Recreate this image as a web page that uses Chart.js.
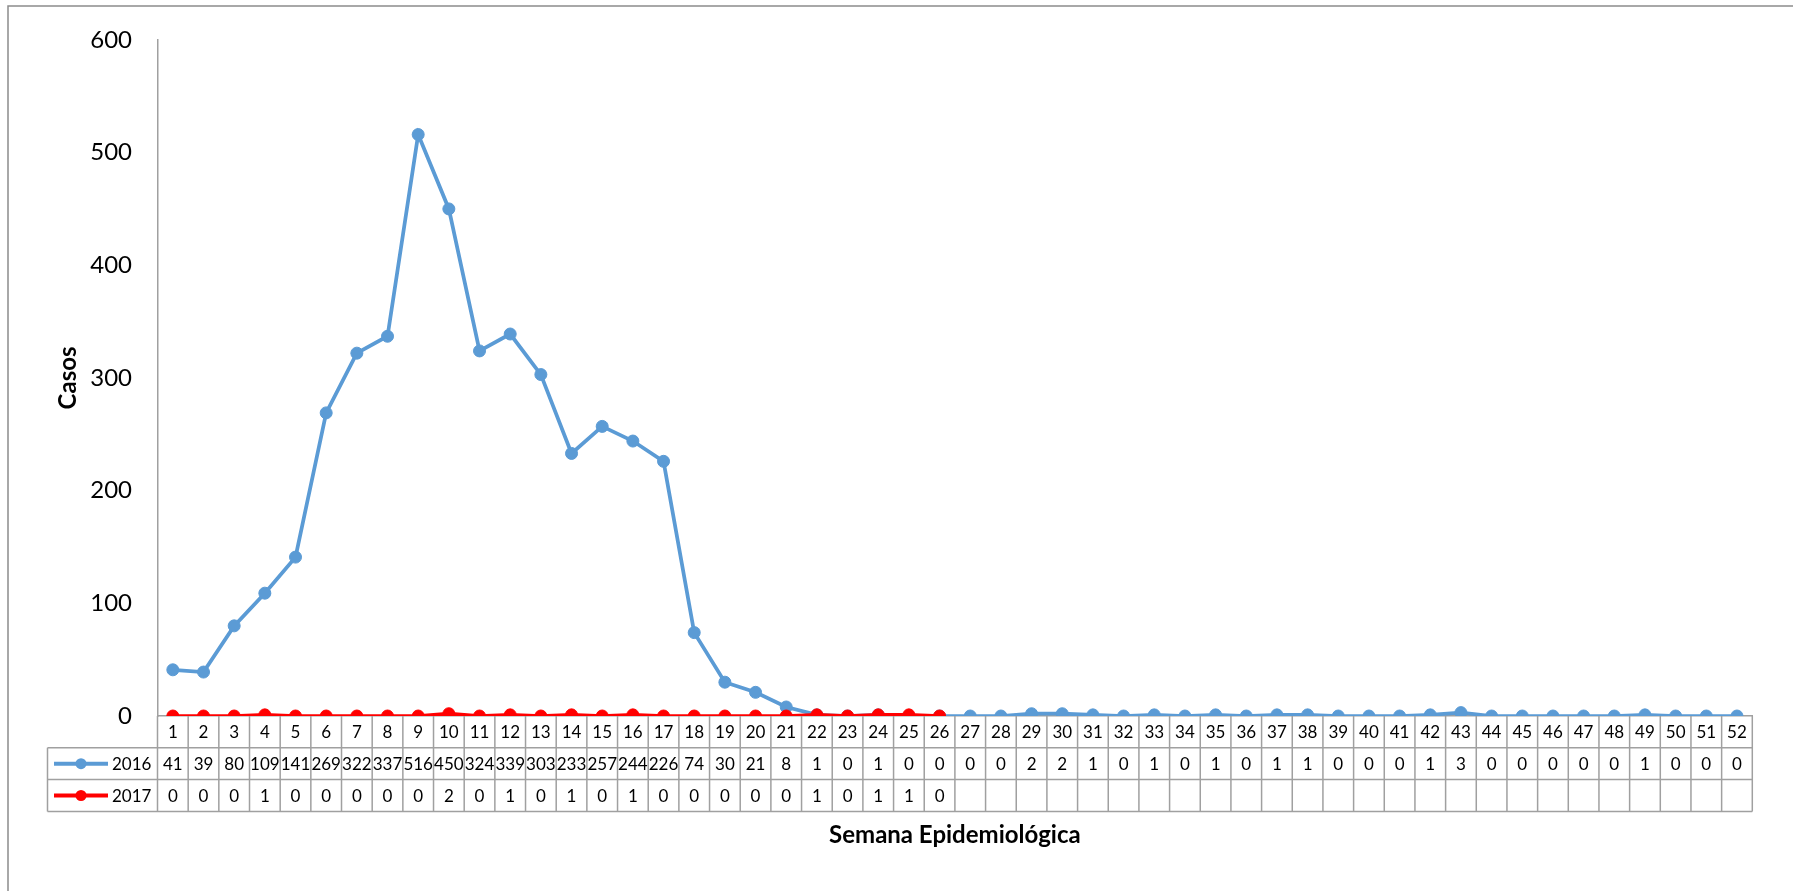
<!DOCTYPE html>
<html>
<head>
<meta charset="utf-8">
<script src="https://cdn.jsdelivr.net/npm/chart.js@4.4.1/dist/chart.umd.min.js"></script>
<style>
  html, body { margin: 0; padding: 0; background: #ffffff; }
  #wrap { width: 1793px; height: 891px; position: relative; }
  canvas { display: block; }
</style>
</head>
<body>
<div id="wrap"><canvas id="c" width="1793" height="891"></canvas></div>
<script>
// ---- data ----
const weeks = ['1','2','3','4','5','6','7','8','9','10','11','12','13','14','15','16','17','18','19','20','21','22','23','24','25','26',
               '27','28','29','30','31','32','33','34','35','36','37','38','39','40','41','42','43','44','45','46','47','48','49','50','51','52'];
const cases2016 = [41,39,80,109,141,269,322,337,516,450,324,339,303,233,257,244,226,74,30,21,8,1,0,1,0,0,
                   0,0,2,2,1,0,1,0,1,0,1,1,0,0,0,1,3,0,0,0,0,0,1,0,0,0];
const cases2017 = [0,0,0,1,0,0,0,0,0,2,0,1,0,1,0,1,0,0,0,0,0,1,0,1,1,0];
const seriesNames = ['2016', '2017'];
const yTicks = [0,100,200,300,400,500,600];

const BLUE = '#5B9BD5';
const RED = '#FF0000';
const GRID = '#a0a0a0';
const FONT = 'Lato, "Open Sans", sans-serif';

const framePlugin = {
  id: 'frame',
  beforeDraw(chart) {
    const ctx = chart.ctx;
    ctx.save();
    ctx.fillStyle = '#ffffff';
    ctx.fillRect(0, 0, chart.width, chart.height);
    ctx.strokeStyle = '#8c8c8c';
    ctx.lineWidth = 1.5;
    ctx.beginPath();
    ctx.moveTo(8, chart.height);
    ctx.lineTo(8, 6);
    ctx.lineTo(chart.width, 6);
    ctx.stroke();
    ctx.restore();
  }
};

const tablePlugin = {
  id: 'dataTable',
  afterDraw(chart) {
    const ctx = chart.ctx;
    const ca = chart.chartArea;
    const x = chart.scales.x;
    const n = weeks.length;
    const colW = (ca.right - ca.left) / n;
    const rowH = 31.8;
    const r0 = ca.bottom, r1 = r0 + rowH, r2 = r1 + rowH, r3 = r2 + rowH;
    const legendLeft = 47.5;

    ctx.save();
    ctx.strokeStyle = GRID;
    ctx.lineWidth = 1.5;
    ctx.beginPath();
    [r1, r2, r3].forEach(yy => { ctx.moveTo(legendLeft, yy); ctx.lineTo(ca.right, yy); });
    for (let i = 0; i < n; i++) {
      const cx = x.getPixelForValue(i);
      const xl = cx - colW / 2, xr = cx + colW / 2;
      ctx.moveTo(xl, r0); ctx.lineTo(xl, r3);
      if (i === n - 1) { ctx.moveTo(xr, r0); ctx.lineTo(xr, r3); }
    }
    ctx.moveTo(legendLeft, r1); ctx.lineTo(legendLeft, r3);
    ctx.stroke();

    // values
    ctx.fillStyle = '#000000';
    ctx.font = '17px ' + FONT;
    ctx.textAlign = 'center';
    ctx.textBaseline = 'middle';
    const rows = [cases2016, cases2017];
    const rowY = [(r1 + r2) / 2, (r2 + r3) / 2];
    rows.forEach((vals, ri) => {
      vals.forEach((v, i) => {
        ctx.fillText(String(v), x.getPixelForValue(i), rowY[ri] + 1);
      });
    });

    // legend keys
    chart.data.datasets.forEach((ds, ri) => {
      const yy = rowY[ri];
      ctx.strokeStyle = ds.borderColor;
      ctx.lineWidth = 4;
      ctx.beginPath();
      ctx.moveTo(54, yy); ctx.lineTo(108, yy);
      ctx.stroke();
      ctx.fillStyle = ds.borderColor;
      ctx.beginPath();
      ctx.arc(81, yy, 5.5, 0, Math.PI * 2);
      ctx.fill();
      ctx.fillStyle = '#000000';
      ctx.textAlign = 'left';
      ctx.fillText(ds.label, 112, yy + 1);
    });
    ctx.restore();
  }
};

new Chart(document.getElementById('c'), {
  type: 'line',
  data: {
    labels: weeks,
    datasets: [
      {
        label: seriesNames[0], data: cases2016, borderColor: BLUE, backgroundColor: BLUE,
        borderWidth: 3.75, pointRadius: 6, pointBorderWidth: 1, pointBackgroundColor: BLUE,
        pointBorderColor: BLUE, tension: 0, order: 1
      },
      {
        label: seriesNames[1], data: cases2017, borderColor: RED, backgroundColor: RED,
        borderWidth: 3.75, pointRadius: 6, pointBorderWidth: 1, pointBackgroundColor: RED,
        pointBorderColor: RED, tension: 0, order: 0
      }
    ]
  },
  options: {
    responsive: false,
    devicePixelRatio: 1,
    animation: false,
    layout: { padding: { top: 38, right: 40.7, bottom: 0, left: 0 } },
    plugins: { legend: { display: false }, tooltip: { enabled: false } },
    scales: {
      x: {
        type: 'category',
        offset: true,
        grid: { display: false, drawTicks: false },
        border: { display: true, color: GRID, width: 1.5 },
        ticks: { color: '#000', font: { family: FONT, size: 17 }, padding: 6, maxRotation: 0, autoSkip: false },
        title: {
          display: true, text: 'Semana Epidemiológica', color: '#000',
          font: { family: FONT, size: 24, weight: 'bold' }, padding: { top: 0, bottom: 41.6 }
        },
        afterFit(scale) { scale.height = 891 - 716; }
      },
      y: {
        min: 0, max: 600,
        afterBuildTicks(scale) { scale.ticks = yTicks.map(v => ({ value: v })); },
        grid: { display: false, drawTicks: false },
        border: { display: true, color: GRID, width: 1.5 },
        ticks: { color: '#000', font: { family: FONT, size: 24 }, padding: 25.5 },
        title: {
          display: true, text: 'Casos', color: '#000',
          font: { family: FONT, size: 24, weight: 'bold' }, padding: { top: 53.6, bottom: 0 }
        },
        afterFit(scale) { scale.width = 157.5; }
      }
    }
  },
  plugins: [framePlugin, tablePlugin]
});
</script>
</body>
</html>
